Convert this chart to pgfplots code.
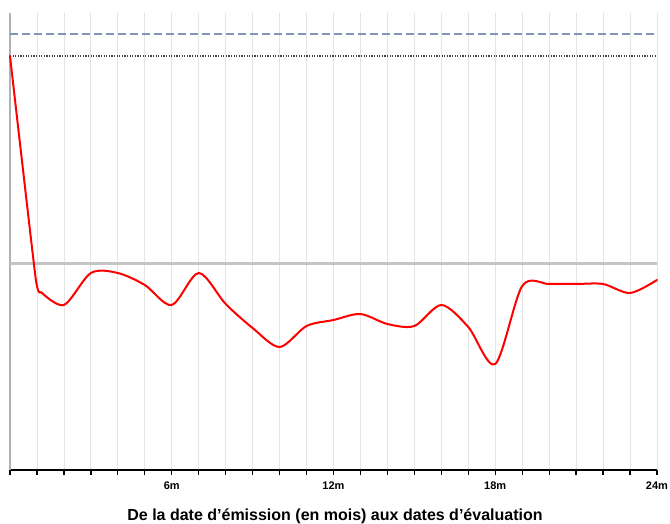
\documentclass[border=0pt]{standalone}
\usepackage{pgfplots}
\pgfplotsset{compat=1.18}
\usepackage{fontspec}
\setmainfont{Liberation Sans}
\definecolor{curvered}{HTML}{FF0000}
\definecolor{refblue}{HTML}{7F96B6}
\definecolor{midgray}{HTML}{C4C4C4}
\definecolor{gridgray}{HTML}{E4E4E4}
\begin{document}
\begin{tikzpicture}
\begin{axis}[
  at={(10pt,53pt)}, anchor=south west,
  scale only axis, width=647pt, height=457pt,
  xmin=0, xmax=24, ymin=0, ymax=457,
  axis x line*=bottom, axis y line*=left,
  x axis line style={black, line width=1.6pt},
  y axis line style={gray!60, line width=1.4pt},
  ytick=\empty,
  xtick={6,12,18,24},
  xticklabels={6m,12m,18m,24m},
  minor xtick={0,1,...,24},
  grid=both,
  major grid style={gridgray, line width=0.8pt},
  minor grid style={gridgray, line width=0.8pt},
  tick align=outside,
  major tick length=4.5pt, minor tick length=4.5pt,
  xtick style={black, line width=1.3pt},
  minor tick style={black, line width=1.3pt},
  /pgf/number format/assume math mode=true,
  xticklabel style={font=\fontsize{11}{13}\selectfont\bfseries, yshift=-4pt},
  clip=false,
]
\addplot[midgray, line width=3pt] coordinates {(0,207) (24,207)};
\addplot[refblue, line width=1.6pt, dash pattern=on 8pt off 4pt] coordinates {(0,436) (24,436)};
\addplot[black!75, line width=1.3pt, dash pattern=on 1.3pt off 1.3pt] coordinates {(0,414) (24,414)};
\addplot[curvered, line width=2pt, smooth, tension=0.3, line join=round, line cap=round] coordinates {
(0,414) (0.95,192) (1.15,178)};
\addplot[curvered, line width=2pt, smooth, tension=0.5, line cap=round] coordinates {
(1.15,178) (2,165) (3,197) (4,197) (5,185) (6,165) (7,197) (8,166)
(9,142) (10,123) (11,144) (12,150) (13,156) (14,146) (15,144) (16,165)
(17,143) (18,106) (19,184) (20,186) (21,186) (22,186) (23,177) (24,190)};
\end{axis}
\node[font=\fontsize{16}{18}\selectfont\bfseries, anchor=base] at (335pt,2.5pt) {De la date d’émission (en mois) aux dates d’évaluation};
\pgfresetboundingbox
\path[use as bounding box] (0,0) rectangle (670pt,523pt);
\end{tikzpicture}
\end{document}
